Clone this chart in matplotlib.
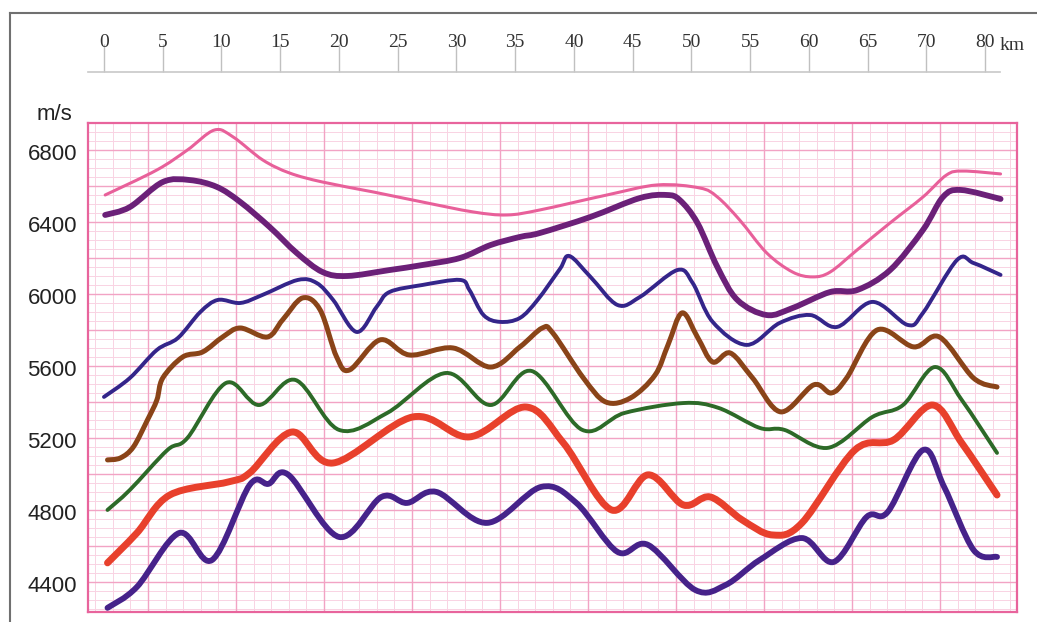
import numpy as np
import matplotlib.pyplot as plt
from matplotlib.lines import Line2D
from matplotlib.path import Path
from matplotlib.patches import PathPatch

# distance along profile (km) and velocity (m/s)
km_pink = [0.1, 4.5, 7.1, 9.4, 11.0, 13.5, 15.8, 18.6, 22.9, 27.1, 31.4, 34.3, 37.1, 42.8, 47.1, 50.7,
           52.2, 54.1, 56.4, 58.6, 60.3, 61.8, 64.1, 66.9, 69.7, 71.7, 73.1, 76.3]
v_pink = [6561, 6700, 6811, 6922, 6883, 6756, 6683, 6633, 6578, 6522, 6467, 6450, 6478, 6561, 6617, 6600,
          6550, 6422, 6239, 6133, 6106, 6133, 6256, 6406, 6550, 6672, 6694, 6678]

km_purple = [0.1, 2.2, 5.0, 7.3, 9.6, 11.6, 14.1, 16.4, 18.6, 20.7, 24.3, 27.1, 30.3, 32.9, 35.4, 37.1,
             41.4, 45.6, 47.9, 49.0, 50.5, 52.2, 53.9, 56.4, 58.6, 61.8, 64.1, 66.9, 69.7, 71.4, 72.9, 76.3]
v_purple = [6450, 6494, 6633, 6644, 6606, 6522, 6383, 6239, 6133, 6111, 6144, 6172, 6211, 6283, 6328, 6350,
            6439, 6544, 6561, 6533, 6406, 6161, 5978, 5894, 5933, 6022, 6033, 6144, 6367, 6550, 6589, 6539]

km_navy = [0, 2.2, 4.5, 6.3, 8.2, 9.7, 11.6, 13.5, 16.5, 18.1, 19.5, 21.5, 23.2, 24.3, 27.1, 30.3,
           31.1, 32.3, 33.7, 35.4, 36.9, 38.8, 39.6, 41.4, 43.7, 45.6, 48.8, 50.1, 51.8, 54.7, 57.5,
           60.1, 62.4, 65.4, 68.4, 69.7, 72.6, 74.0, 76.3]
v_navy = [5439, 5544, 5700, 5767, 5911, 5978, 5961, 6006, 6089, 6072, 5978, 5800, 5939, 6022, 6061, 6089,
          6033, 5894, 5856, 5878, 5978, 6150, 6222, 6106, 5950, 5994, 6144, 6072, 5856, 5728, 5850,
          5894, 5828, 5967, 5839, 5906, 6200, 6183, 6117]

km_brown = [0.3, 1.4, 2.5, 3.7, 4.5, 5.0, 6.7, 8.4, 10.1, 11.6, 13.9, 15.2, 16.9, 18.4, 19.8, 20.9,
            23.5, 26.0, 29.7, 32.9, 35.4, 37.3, 38.2, 40.8, 42.7, 44.8, 46.9, 48.0, 49.2, 50.5, 51.8,
            53.3, 55.2, 57.6, 60.4, 61.9, 63.2, 65.8, 68.9, 71.1, 74.0, 76.0]
v_brown = [5089, 5100, 5161, 5311, 5422, 5544, 5661, 5689, 5772, 5822, 5772, 5867, 5989, 5922, 5661, 5589,
           5756, 5672, 5711, 5605, 5717, 5822, 5794, 5544, 5411, 5433, 5561, 5728, 5906, 5772, 5633,
           5683, 5544, 5356, 5506, 5461, 5544, 5811, 5717, 5772, 5544, 5494]

km_green = [0.3, 2.2, 5.4, 7.1, 10.4, 13.2, 16.3, 20.0, 24.1, 29.1, 32.9, 36.4, 40.7, 44.3, 49.3, 52.3,
            55.8, 57.9, 61.6, 65.4, 68.0, 70.7, 73.0, 76.0]
v_green = [4811, 4922, 5144, 5211, 5517, 5394, 5533, 5256, 5350, 5572, 5394, 5583, 5256, 5350, 5405, 5378,
           5267, 5256, 5156, 5328, 5394, 5605, 5422, 5128]

km_red = [0.3, 2.8, 5.6, 10.6, 12.4, 16.0, 19.5, 26.3, 31.1, 35.9, 39.1, 43.2, 46.3, 49.3, 51.6, 54.3,
          56.9, 59.4, 63.9, 67.2, 70.5, 73.0, 76.0]
v_red = [4517, 4683, 4894, 4967, 5017, 5244, 5072, 5328, 5217, 5383, 5183, 4811, 5006, 4839, 4883, 4756,
         4672, 4739, 5144, 5200, 5394, 5183, 4894]

km_indigo = [0.3, 2.8, 6.4, 9.2, 12.4, 14.0, 15.7, 20.0, 23.6, 25.8, 28.3, 32.6, 37.2, 40.2, 43.7, 46.3,
             50.3, 52.9, 55.8, 59.4, 62.1, 64.9, 66.7, 69.7, 71.5, 74.0, 76.0]
v_indigo = [4267, 4383, 4683, 4533, 4950, 4956, 5006, 4661, 4883, 4850, 4911, 4739, 4939, 4850, 4578, 4617,
            4367, 4394, 4533, 4655, 4522, 4772, 4800, 5144, 4939, 4589, 4550]

km_ticks = [0, 5, 10, 15, 20, 25, 30, 35, 40, 45, 50, 55, 60, 65, 70, 75]
km_labels = ['0', '5', '10', '15', '20', '25', '30', '35', '40', '45', '50', '55', '60', '65', '70', '80']
v_ticks = [4400, 4800, 5200, 5600, 6000, 6400, 6800]

W, H = 1037, 622
fig = plt.figure(figsize=(W / 100, H / 100), dpi=100)


def px_box(x0, y0, x1, y1):
    return [x0 / W, 1 - y1 / H, (x1 - x0) / W, (y1 - y0) / H]


def smooth_line(ax, xs, ys, color, lw):
    # Catmull-Rom spline through the read points, drawn as bezier path
    p = np.column_stack([xs, ys]).astype(float)
    p = np.vstack([p[0], p, p[-1]])
    verts = [p[1]]
    codes = [Path.MOVETO]
    for i in range(1, len(p) - 2):
        c1 = p[i] + (p[i + 1] - p[i - 1]) / 6
        c2 = p[i + 1] - (p[i + 2] - p[i]) / 6
        verts += [c1, c2, p[i + 1]]
        codes += [Path.CURVE4] * 3
    patch = PathPatch(Path(verts, codes), fill=False, edgecolor=color, lw=lw,
                      capstyle='round', joinstyle='round', zorder=3)
    ax.add_patch(patch)


# grey outer frame (cut off on right and bottom)
fig.add_artist(Line2D([10 / W, 1], [1 - 13 / H, 1 - 13 / H], color='#707070', lw=1.5))
fig.add_artist(Line2D([10 / W, 10 / W], [0, 1 - 13 / H], color='#707070', lw=1.5))

# main chart
ax = fig.add_axes(px_box(88, 123, 1017, 612))
ax.set_xlim(-1.36, 77.7)
ax.set_ylim(4244, 6961)

# pink graph-paper grid
for x in np.arange(3.74 - 7.49, 78, 7.49 / 5):
    ax.axvline(x, color='#f9d3e3', lw=0.7, zorder=0)
for y in np.arange(4210, 6961, 50):
    ax.axhline(y, color='#f9d3e3', lw=0.7, zorder=0)
for x in np.arange(3.74, 78, 7.49):
    ax.axvline(x, color='#f2a3c4', lw=1.0, zorder=1)
for y in np.arange(4210, 6961, 200):
    ax.axhline(y, color='#f2a3c4', lw=1.0, zorder=1)

for s in ax.spines.values():
    s.set_color('#e8649c')
    s.set_linewidth(1.6)
ax.set_xticks([])
ax.set_yticks(v_ticks)
ax.set_yticklabels([str(v) for v in v_ticks], family='Liberation Sans', fontsize=16, color='#222222')
ax.tick_params(axis='y', length=0, pad=8)

smooth_line(ax, km_pink, v_pink, '#e8609a', 2.2)
smooth_line(ax, km_purple, v_purple, '#6b2078', 4.2)
smooth_line(ax, km_navy, v_navy, '#34258a', 2.8)
smooth_line(ax, km_brown, v_brown, '#8a4418', 3.6)
smooth_line(ax, km_green, v_green, '#2d6a28', 2.8)
smooth_line(ax, km_red, v_red, '#e8402c', 5.0)
smooth_line(ax, km_indigo, v_indigo, '#46228a', 4.2)

fig.text(54 / W, 1 - 115 / H, 'm/s', ha='center', va='center', family='Liberation Sans',
         fontsize=16, color='#222222')

# distance scale on top
axt = fig.add_axes(px_box(88, 52, 1000, 72))
axt.set_xlim(-1.36, 76.26)
axt.set_ylim(0, 1)
axt.patch.set_visible(False)
for side in ['top', 'left', 'right']:
    axt.spines[side].set_visible(False)
axt.spines['bottom'].set_color('#c8c8c8')
axt.spines['bottom'].set_linewidth(1.2)
axt.set_yticks([])
axt.set_xticks(km_ticks)
axt.set_xticklabels(km_labels, family='Liberation Serif', fontsize=14, color='#333333')
axt.tick_params(axis='x', bottom=True, top=False, labelbottom=False, labeltop=True,
                direction='in', length=20, width=1.0, color='#c0c0c0', pad=1)
fig.text(1000 / W, 1 - 45 / H, 'km', ha='left', va='center', family='Liberation Serif',
         fontsize=14, color='#333333')

fig.savefig('out.png', dpi=100)
